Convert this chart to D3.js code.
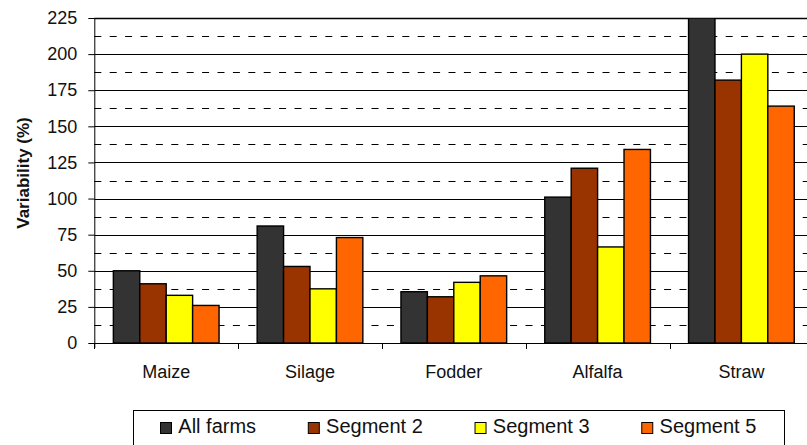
<!DOCTYPE html>
<html>
<head>
<meta charset="utf-8">
<script src="https://cdn.jsdelivr.net/npm/d3@7"></script>
<style>
  html, body { margin: 0; padding: 0; background: #fff; }
  svg { display: block; font-family: "Liberation Sans", Arial, sans-serif; }
</style>
</head>
<body>
<svg id="chart" width="807" height="445"></svg>
<script>
// Crop categories and farm segments
const categories = ["Maize", "Silage", "Fodder", "Alfalfa", "Straw"];
const seriesNames = ["All farms", "Segment 2", "Segment 3", "Segment 5"];
const seriesColors = ["#333333", "#993300", "#FFFF00", "#FF6600"];

// Variability (%) per crop, one array per series
const allFarms = [50, 81, 35.5, 101, 225];
const segment2 = [41, 53, 32, 121, 182];
const segment3 = [33, 37.5, 42, 66.5, 200];
const segment5 = [26, 73, 46.5, 134, 164];

const yTicks = [0, 25, 50, 75, 100, 125, 150, 175, 200, 225];
const yMinorTicks = [12.5, 37.5, 62.5, 87.5, 112.5, 137.5, 162.5, 187.5, 212.5];

const seriesValues = [allFarms, segment2, segment3, segment5];
const rows = categories.map((c, i) => ({
  category: c,
  values: seriesNames.map((s, j) => ({ series: s, color: seriesColors[j], value: seriesValues[j][i] }))
}));

const svg = d3.select("#chart");
const plot = { left: 94.3, right: 813.3, top: 18, bottom: 343 };

const x0 = d3.scaleBand()
  .domain(categories)
  .range([plot.left, plot.right])
  .paddingInner(0.265)
  .paddingOuter(0.1325);
const x1 = d3.scaleBand()
  .domain(seriesNames)
  .range([0, x0.bandwidth()]);
const y = d3.scaleLinear().domain([0, 225]).range([plot.bottom, plot.top]);

svg.append("defs").append("clipPath").attr("id", "plotClip")
  .append("rect")
  .attr("x", plot.left).attr("y", plot.top)
  .attr("width", plot.right - plot.left).attr("height", plot.bottom - plot.top);

// Minor dashed gridlines
svg.append("g").selectAll("line").data(yMinorTicks).join("line")
  .attr("x1", plot.left).attr("x2", plot.right)
  .attr("y1", d => Math.round(y(d)) + 0.5).attr("y2", d => Math.round(y(d)) + 0.5)
  .attr("stroke", "#000").attr("stroke-width", 1)
  .attr("stroke-dasharray", "7,8.4");

// Major solid gridlines
svg.append("g").selectAll("line").data(yTicks.filter(d => d > 0)).join("line")
  .attr("x1", plot.left).attr("x2", plot.right)
  .attr("y1", d => Math.round(y(d)) + 0.5).attr("y2", d => Math.round(y(d)) + 0.5)
  .attr("stroke", "#000").attr("stroke-width", d => d === 225 ? 1.6 : 1);

// Bars
const groups = svg.append("g").attr("clip-path", "url(#plotClip)")
  .selectAll("g").data(rows).join("g")
  .attr("transform", d => `translate(${x0(d.category)},0)`);
groups.selectAll("rect").data(d => d.values).join("rect")
  .attr("x", d => x1(d.series))
  .attr("y", d => y(d.value))
  .attr("width", x1.bandwidth())
  .attr("height", d => y(0) - y(d.value))
  .attr("fill", d => d.color)
  .attr("stroke", "#000")
  .attr("stroke-width", 1.4);

// Y axis
const yAxis = svg.append("g")
  .attr("transform", `translate(${plot.left},0)`)
  .call(d3.axisLeft(y).tickValues(yTicks).tickSize(6).tickPadding(11).tickFormat(d3.format("d")));
yAxis.select(".domain").attr("d", `M0.5,${plot.top}V${plot.bottom + 5}`).attr("stroke", "#000");
yAxis.selectAll(".tick line").attr("stroke", "#000");
yAxis.selectAll(".tick text").attr("font-size", 18).attr("fill", "#111")
  .attr("font-family", "'Liberation Sans', Arial, sans-serif");

// X axis: baseline with boundary ticks between categories
const xAxis = svg.append("g");
xAxis.append("line")
  .attr("x1", plot.left).attr("x2", plot.right)
  .attr("y1", plot.bottom + 0.5).attr("y2", plot.bottom + 0.5)
  .attr("stroke", "#000");
const step = x0.step();
xAxis.selectAll("line.bound").data(d3.range(categories.length + 1)).join("line")
  .attr("class", "bound")
  .attr("x1", i => Math.round(plot.left + i * step) + 0.5)
  .attr("x2", i => Math.round(plot.left + i * step) + 0.5)
  .attr("y1", plot.bottom).attr("y2", plot.bottom + 6)
  .attr("stroke", "#000");
xAxis.selectAll("text").data(categories).join("text")
  .attr("x", d => x0(d) + x0.bandwidth() / 2)
  .attr("y", 377.5)
  .attr("text-anchor", "middle")
  .attr("font-size", 18)
  .attr("fill", "#111")
  .text(d => d);

// Y axis title
svg.append("text")
  .attr("transform", "translate(28.5,173) rotate(-90)")
  .attr("text-anchor", "middle")
  .attr("font-size", 17)
  .attr("font-weight", "bold")
  .attr("fill", "#111")
  .text("Variability (%)");

// Legend
const legend = svg.append("g");
legend.append("rect")
  .attr("x", 133.5).attr("y", 410.5)
  .attr("width", 651).attr("height", 45)
  .attr("fill", "#fff").attr("stroke", "#000");
let lx = 160;
seriesNames.forEach((name, i) => {
  legend.append("rect")
    .attr("x", lx + 0.5).attr("y", 422.5)
    .attr("width", 11).attr("height", 11)
    .attr("fill", seriesColors[i]).attr("stroke", "#000").attr("stroke-width", 1);
  const t = legend.append("text")
    .attr("x", lx + 18.3).attr("y", 433.3)
    .attr("font-size", 20)
    .attr("fill", "#111")
    .text(name);
  lx = lx + 18.3 + t.node().getComputedTextLength() + 51.7;
});
</script>
</body>
</html>
